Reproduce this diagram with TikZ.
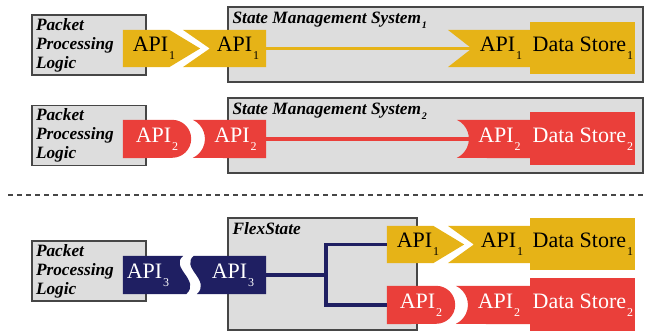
\documentclass[tikz,border=0pt]{standalone}
\usepackage{fontspec}
\setmainfont{Liberation Serif}
\usetikzlibrary{calc, positioning}

\definecolor{apiyellow}{RGB}{230,179,23}
\definecolor{apired}{RGB}{234,63,58}
\definecolor{apinavy}{RGB}{31,31,98}
\definecolor{boxgray}{RGB}{221,221,221}
\definecolor{edgegray}{RGB}{70,70,70}

\pgfdeclarelayer{back}
\pgfdeclarelayer{mid}
\pgfsetlayers{back,mid,main}

\newcommand{\subidx}[1]{\kern1pt\raisebox{-0.8ex}{\fontsize{12}{12}\selectfont #1}}
\newcommand{\lblidx}[1]{\kern1pt\raisebox{-0.7ex}{\fontsize{10}{10}\selectfont #1}}

\newcommand{\tipright}[2]{\fill[#2] (#1.north west) -- ($(#1.north east)+(-16,0)$) -- ($(#1.east)+(15,0)$) -- ($(#1.south east)+(-16,0)$) -- (#1.south west) -- cycle;}
\newcommand{\notchleft}[3]{\fill[#2] (#1.north east) -- ($(#1.north west)+(-#3,0)$) -- (#1.west) -- ($(#1.south west)+(-#3,0)$) -- (#1.south east) -- cycle;}
\newcommand{\roundright}[2]{\fill[#2] (#1.north west) -- ($(#1.north east)+(-19,0)$) arc[start angle=90, end angle=-90, radius=19pt] -- (#1.south west) -- cycle;}
\newcommand{\hollowleft}[2]{\fill[#2] (#1.north east) -- ($(#1.north west)+(-12,0)$) arc[start angle=65, end angle=-65, radius=21pt] -- (#1.south east) -- cycle;}

\begin{document}
\begin{tikzpicture}[x=1pt, y=-1pt,
		apibox/.style={inner sep=0pt, minimum height=37pt, font=\fontsize{22}{24}\selectfont},
		storebox/.style={apibox, fill=#1, minimum width=105pt, minimum height=52pt},
		onyellow/.style={text=black},
		onred/.style={text=white},
		onnavy/.style={text=white},
		graybox/.style={draw=edgegray, line width=1.2pt, fill=boxgray, inner sep=0pt},
		pplbox/.style={graybox, minimum width=114pt, minimum height=60pt, text width=106pt,
			inner xsep=4pt, inner ysep=2pt, align=left, font=\fontsize{17.3}{19}\selectfont\bfseries\itshape},
		boxlabel/.style={anchor=north west, inner sep=2pt, font=\fontsize{17.3}{19}\selectfont\bfseries\itshape},
		wire/.style={line width=3.5pt}]
	\useasboundingbox (0,0) rectangle (646,331);

	\begin{pgfonlayer}{back}
		\node[pplbox] (ppl1) at (89,45) {Packet\\Processing\\Logic};
		\node[pplbox] (ppl2) at (89,135.5) {Packet\\Processing\\Logic};
		\node[pplbox] (ppl3) at (89,271) {Packet\\Processing\\Logic};
		\node[graybox, minimum width=415pt, minimum height=75pt] (sms1) at (435.5,44.5) {};
		\node[graybox, minimum width=415pt, minimum height=75pt] (sms2) at (435.5,135.5) {};
		\node[graybox, minimum width=189pt, minimum height=112pt] (flex) at (322.5,274) {};
	\end{pgfonlayer}

	\node[boxlabel] (sms1lbl) at ($(sms1.north west)+(3,3)$) {State Management System\lblidx{1}};
	\node[boxlabel] (sms2lbl) at ($(sms2.north west)+(3,3)$) {State Management System\lblidx{2}};
	\node[boxlabel] (flexlbl) at ($(flex.north west)+(3,3)$) {FlexState};

	\node[apibox, onyellow, minimum width=62pt] (a1a) at (154,48.5) {API\subidx{1}};
	\node[apibox, onyellow, minimum width=56pt] (a1b) at (238,48.5) {API\subidx{1}};
	\node[apibox, onyellow, minimum width=58pt] (d1a) at (501,48.5) {API\subidx{1}};
	\node[storebox=apiyellow, onyellow, right=0pt of d1a] (ds1) {Data Store\subidx{1}};

	\node[apibox, onred, minimum width=68pt, minimum height=38pt] (a2a) at (157,139) {API\subidx{2}};
	\node[apibox, onred, minimum width=61pt, minimum height=38pt] (a2b) at (235.5,139) {API\subidx{2}};
	\node[apibox, onred, minimum width=61pt, minimum height=38pt] (d2a) at (499.5,139) {API\subidx{2}};
	\node[storebox=apired, onred, minimum height=53pt, right=0pt of d2a] (ds2) {Data Store\subidx{2}};

	\node[apibox, onnavy, minimum width=50pt, minimum height=38pt] (a3a) at (148,275) {API\subidx{3}};
	\node[apibox, onnavy, minimum width=66pt, minimum height=38pt] (a3b) at (233,275) {API\subidx{3}};
	\node[apibox, onyellow, minimum width=62pt] (f1a) at (418,244.5) {API\subidx{1}};
	\node[apibox, onyellow, minimum width=56pt] (f1b) at (502,244.5) {API\subidx{1}};
	\node[storebox=apiyellow, onyellow, right=0pt of f1b] (fds1) {Data Store\subidx{1}};
	\node[apibox, onred, minimum width=68pt, minimum height=38pt] (f2a) at (421,305) {API\subidx{2}};
	\node[apibox, onred, minimum width=62pt, minimum height=38pt] (f2b) at (499,305) {API\subidx{2}};
	\node[storebox=apired, onred, minimum height=53pt, right=0pt of f2b] (fds2) {Data Store\subidx{2}};

	\begin{pgfonlayer}{mid}
		\tipright{a1a}{apiyellow}
		\notchleft{a1b}{apiyellow}{27}
		\notchleft{d1a}{apiyellow}{24}
		\roundright{a2a}{apired}
		\hollowleft{a2b}{apired}
		\hollowleft{d2a}{apired}
		\fill[apinavy] (a3a.north west) -- ($(a3a.north east)+(10,0)$)
			.. controls ($(a3a.north east)+(-4,12)$) and ($(a3a.south east)+(28,-14)$) .. ($(a3a.south east)+(13,0)$)
			-- (a3a.south west) -- cycle;
		\fill[apinavy] (a3b.north east) -- ($(a3b.north west)+(-6,0)$)
			.. controls ($(a3b.north west)+(-20,12)$) and ($(a3b.south west)+(12,-14)$) .. ($(a3b.south west)+(-3,0)$)
			-- (a3b.south east) -- cycle;
		\tipright{f1a}{apiyellow}
		\notchleft{f1b}{apiyellow}{26}
		\roundright{f2a}{apired}
		\hollowleft{f2b}{apired}
	\end{pgfonlayer}

	\draw[wire, apiyellow] (a1b.east) -- (d1a.west);
	\draw[wire, apired] (a2b.east) -- (d2a.west);
	\coordinate (fork) at ($(a3b.east)+(60,0)$);
	\draw[wire, apinavy] (a3b.east) -- (fork) |- (f1a.west);
	\draw[wire, apinavy] (fork) |- (f2a.west);

	\draw[edgegray, line width=1.3pt, dash pattern=on 5pt off 4pt] (8,195) -- (643,195);
\end{tikzpicture}
\end{document}
